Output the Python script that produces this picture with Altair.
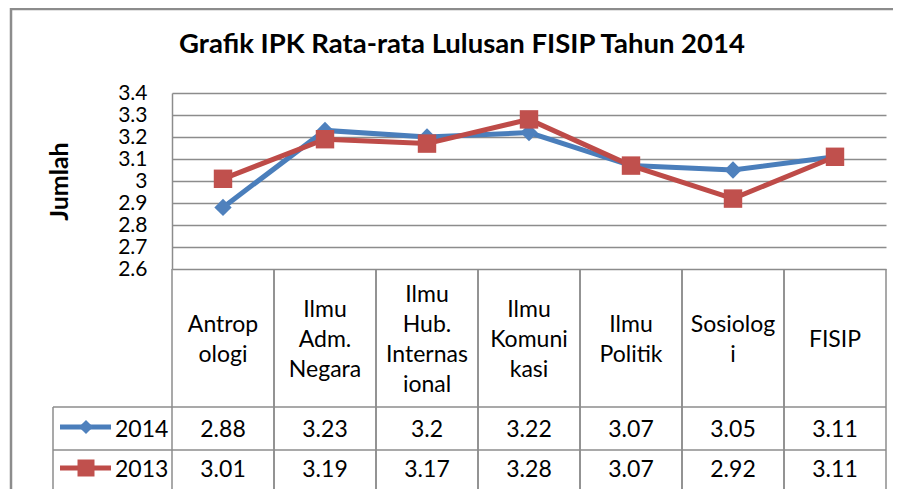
import altair as alt
import pandas as pd

# ---- data ----
categories = ["Antropologi", "Ilmu Adm. Negara", "Ilmu Hub. Internasional",
              "Ilmu Komunikasi", "Ilmu Politik", "Sosiologi", "FISIP"]
category_labels = ["Antrop\nologi", "Ilmu\nAdm.\nNegara", "Ilmu\nHub.\nInternas\nional",
                   "Ilmu\nKomuni\nkasi", "Ilmu\nPolitik", "Sosiolog\ni", "FISIP"]
series_names = ["2014", "2013"]
values_2014 = [2.88, 3.23, 3.2, 3.22, 3.07, 3.05, 3.11]
values_2013 = [3.01, 3.19, 3.17, 3.28, 3.07, 2.92, 3.11]
y_ticks = [2.6, 2.7, 2.8, 2.9, 3.0, 3.1, 3.2, 3.3, 3.4]
title_text = "Grafik IPK Rata-rata Lulusan FISIP Tahun 2014"
y_title = "Jumlah"

# ---- style ----
line_colors = ["#4A7EBB", "#BE4B48"]
fill_colors = ["#4F81BD", "#C0504D"]
shapes = ["diamond", "square"]
marker_sizes = [300, 340]
legend_marker_sizes = [200, 289]
grid_color = "#8C8C8C"
FONT = "Lato"
W, H = 714, 176
HEADER_MID = 254      # baseline of the middle of each header block (plot coords)
HEADER_LH = 30

rows = []
for s, vals in zip(series_names, [values_2014, values_2013]):
    for c, v in zip(categories, vals):
        rows.append({"cat": c, "series": s, "value": v})
df = pd.DataFrame(rows)

# one row per printed header line, with its offset from the block centre
line_rows = []
for c, lab in zip(categories, category_labels):
    parts = lab.split("\n")
    n = len(parts)
    for k, p in enumerate(parts):
        line_rows.append({"cat": c, "text": p, "off": int(round((k - (n - 1) / 2) * HEADER_LH))})
lines_df = pd.DataFrame(line_rows)
cat_df = pd.DataFrame({"cat": categories})
one = pd.DataFrame({"k": [0]})

x_scale = alt.Scale(type="band", domain=categories, paddingInner=0, paddingOuter=0)
y_scale = alt.Scale(domain=[2.6, 3.4], nice=False, zero=False)

y_axis = alt.Axis(
    values=y_ticks, tickCount=9, format=".1~f", grid=True, gridColor=grid_color, gridWidth=1.5,
    domain=True, domainColor=grid_color, domainWidth=1.5, ticks=False, tickSize=0,
    labelPadding=25, labelFont=FONT, labelFontSize=21, labelColor="black",
    labelOverlap=False, labelFlush=False,
    title=y_title, titleFont=FONT, titleFontSize=25, titleFontWeight="bold",
    titleColor="black", titleAngle=270, titleX=-113, titleY=H / 2,
    titleAlign="center", titleBaseline="middle",
)


def X(**kw):
    return alt.X("cat:N", scale=x_scale, axis=None, **kw)


def Y():
    return alt.Y("value:Q", scale=y_scale, axis=y_axis)


layers = []

# table vertical rules at category boundaries
for bp in [0, 1]:
    layers.append(
        alt.Chart(cat_df).mark_rule(color=grid_color, strokeWidth=1.5).encode(
            x=X(bandPosition=bp), y=alt.value(H), y2=alt.value(410)
        )
    )
# table horizontal rules
for yy in [314, 357]:
    layers.append(
        alt.Chart(one).mark_rule(color=grid_color, strokeWidth=1.5).encode(
            x=alt.value(-119), x2=alt.value(W), y=alt.value(yy)
        )
    )
layers.append(
    alt.Chart(one).mark_rule(color=grid_color, strokeWidth=1.5).encode(
        x=alt.value(-119), y=alt.value(314), y2=alt.value(410)
    )
)
# chart frame
layers.append(
    alt.Chart(one).mark_rule(color="#8C8C8C", strokeWidth=2.5).encode(
        x=alt.value(-161), y=alt.value(-85), y2=alt.value(410)
    )
)
layers.append(
    alt.Chart(one).mark_rule(color="#8C8C8C", strokeWidth=2.5).encode(
        x=alt.value(-161), x2=alt.value(W + 40), y=alt.value(-84)
    )
)

# title
layers.append(
    alt.Chart(one).mark_text(
        text=title_text, font=FONT, fontSize=27.5, fontWeight="bold", color="black",
        align="center", baseline="alphabetic"
    ).encode(x=alt.value(290), y=alt.value(-40))
)

# category header labels: each line placed by its offset from the block centre
for off in sorted(lines_df["off"].unique()):
    layers.append(
        alt.Chart(lines_df[lines_df["off"] == off]).mark_text(
            font=FONT, fontSize=23, color="black", align="center", baseline="alphabetic"
        ).encode(x=X(), y=alt.value(HEADER_MID + int(off)), text="text:N")
    )

row_base = {"2014": 344, "2013": 384}
row_mid = {"2014": 334, "2013": 375}

for i, s in enumerate(series_names):
    sdf = df[df["series"] == s]
    # line + markers
    layers.append(
        alt.Chart(sdf).mark_line(color=line_colors[i], strokeWidth=5).encode(x=X(), y=Y())
    )
    layers.append(
        alt.Chart(sdf).mark_point(
            shape=shapes[i], filled=True, opacity=1, size=marker_sizes[i],
            color=fill_colors[i]
        ).encode(x=X(), y=Y())
    )
    # data table values
    layers.append(
        alt.Chart(sdf).mark_text(
            font=FONT, fontSize=23, color="black", align="center", baseline="alphabetic"
        ).encode(x=X(), y=alt.value(row_base[s]),
                 text=alt.Text("value:Q", format=".2~f"))
    )
    # legend key in table
    sname = pd.DataFrame({"series": [s]})
    layers.append(
        alt.Chart(sname).mark_rule(color=line_colors[i], strokeWidth=5).encode(
            x=alt.value(-112), x2=alt.value(-61), y=alt.value(row_mid[s])
        )
    )
    layers.append(
        alt.Chart(sname).mark_point(
            shape=shapes[i], filled=True, opacity=1, size=legend_marker_sizes[i],
            color=fill_colors[i]
        ).encode(x=alt.value(-86), y=alt.value(row_mid[s]))
    )
    layers.append(
        alt.Chart(sname).mark_text(
            font=FONT, fontSize=23, color="black", align="left", baseline="alphabetic"
        ).encode(x=alt.value(-57), y=alt.value(row_base[s]), text="series:N")
    )

chart = alt.layer(*layers).properties(
    width=W, height=H,
    padding={"left": 164, "top": 85, "right": 7, "bottom": 220},
    autosize=alt.AutoSizeParams(type="none"),
).configure_view(stroke=None)

chart.save("out.html", embed_options={"renderer": "svg", "actions": False})
